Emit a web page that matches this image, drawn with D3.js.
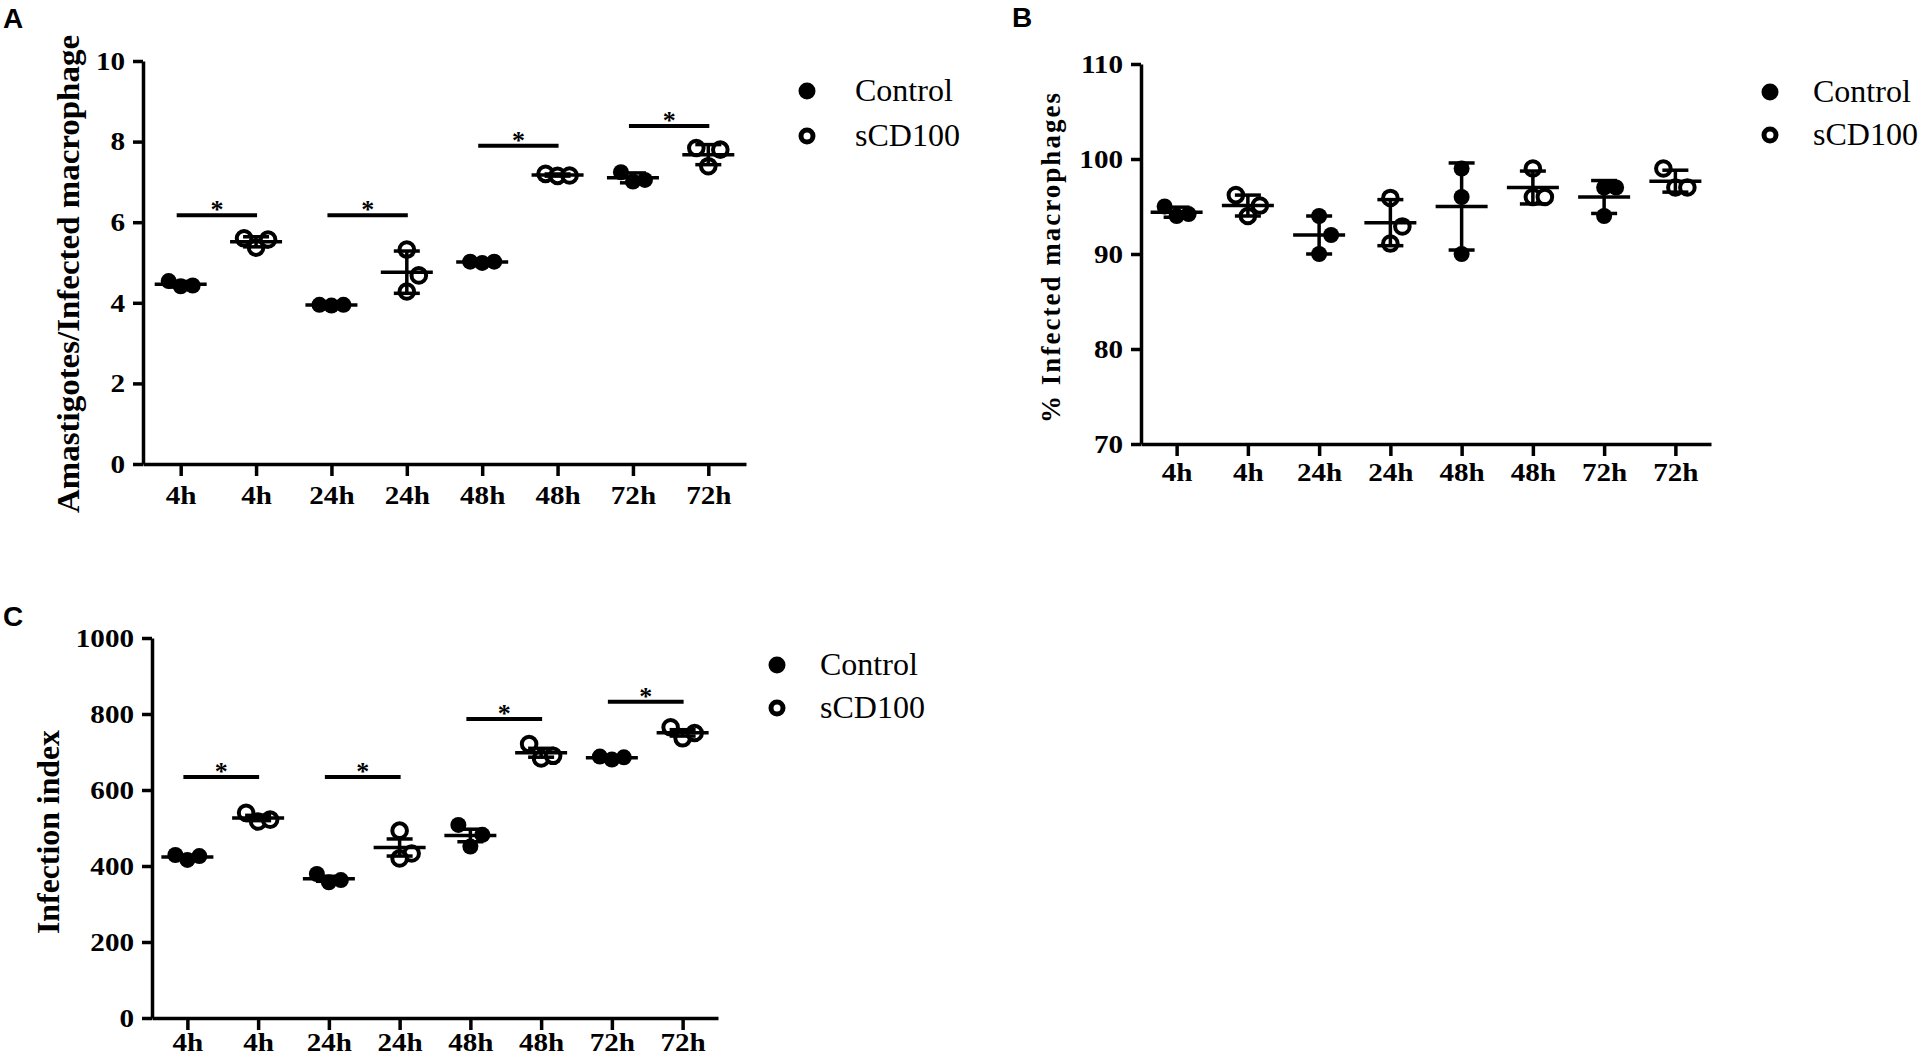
<!DOCTYPE html>
<html><head><meta charset="utf-8">
<script src="https://cdn.jsdelivr.net/npm/d3@7"></script>
<style>html,body{margin:0;padding:0;background:#fff}svg{display:block}</style>
</head><body>
<svg id="fig" width="1927" height="1057"></svg>
<script>
// ---------- data ----------
const timeLabels   = ["4h","4h","24h","24h","48h","48h","72h","72h"];
const groupSeries  = ["Control","sCD100","Control","sCD100","Control","sCD100","Control","sCD100"];
const seriesNames  = ["Control","sCD100"];

const ticksA = [0,2,4,6,8,10];
const ticksB = [70,80,90,100,110];
const ticksC = [0,200,400,600,800,1000];

// Amastigotes / infected macrophage (3 replicates per group)
const amastigotes = [
  [4.54,4.41,4.43],[5.60,5.37,5.57],
  [3.95,3.93,3.95],[5.32,4.68,4.28],
  [5.02,4.99,5.02],[7.20,7.15,7.16],
  [7.24,7.01,7.05],[7.84,7.39,7.80]
];
// % infected macrophages
const infectedPct = [
  [95.0,94.0,94.2],[96.2,95.1,94.0],
  [94.0,92.0,90.0],[95.9,92.9,91.1],
  [99.0,96.0,90.0],[99.0,96.0,96.0],
  [97.0,97.0,94.0],[99.0,97.0,97.0]
];
// Infection index
const infectionIndex = [
  [429,416,426],[540,517,522],
  [379,357,363],[493,433,420],
  [508,451,482],[721,683,690],
  [688,680,686],[765,736,750]
];
// significance brackets: [groupA, groupB, height]
const sigA = [[0,1,6.17],[2,3,6.17],[4,5,7.9],[6,7,8.39]];
const sigC = [[0,1,634],[2,3,634],[4,5,787],[6,7,832]];

// ---------- drawing ----------
const svg = d3.select("#fig");
const SERIF = "'Liberation Serif','Times New Roman',serif";
const SANS = "'Liberation Sans',Arial,sans-serif";
const LW = 3.5;

function stretch(sel, k){
  sel.each(function(){
    const L = this.getComputedTextLength();
    this.setAttribute("textLength", (L*k).toFixed(1));
    this.setAttribute("lengthAdjust","spacingAndGlyphs");
  });
}

function layoutPoints(vals, y, step, tol){
  const order = vals.map((v,i)=>i).sort((a,b)=>vals[a]-vals[b]);
  const placed = [];
  const slotsTry = [0,1,-1,2,-2,3,-3];
  const out = new Array(vals.length);
  order.forEach(i=>{
    const py = y(vals[i]);
    for(const s of slotsTry){
      const clash = placed.some(p=>p.s===s && Math.abs(p.py-py)<tol);
      if(!clash){ placed.push({s,py}); out[i]={v:vals[i], dx:s*step}; break; }
    }
  });
  return out;
}

function panel(cfg){
  const g = svg.append("g");
  const x = d3.scalePoint().domain(d3.range(timeLabels.length)).range([cfg.left,cfg.right]).padding(0.5);
  const y = d3.scaleLinear().domain(cfg.domain).range([cfg.bottom,cfg.top]);

  // y axis
  const ya = g.append("g").attr("transform",`translate(${cfg.left},0)`)
    .call(d3.axisLeft(y).tickValues(cfg.ticks).tickFormat(d3.format("d")).tickSize(10).tickPadding(8).tickSizeOuter(0));
  // x axis
  const xa = g.append("g").attr("transform",`translate(0,${cfg.bottom})`)
    .call(d3.axisBottom(x).tickFormat(i=>timeLabels[i]).tickSize(12).tickPadding(cfg.xPad).tickSizeOuter(0));
  [ya,xa].forEach(a=>{
    a.attr("font-family",SERIF).attr("font-size",26).attr("font-weight","bold");
    a.selectAll("path.domain").attr("stroke","#000").attr("stroke-width",LW);
    a.selectAll(".tick line").attr("stroke","#000").attr("stroke-width",LW);
    a.selectAll(".tick text").attr("fill","#000");
    stretch(a.selectAll(".tick text"), 1.12);
  });

  // points
  const step = 12, tol = 22.5;
  cfg.data.forEach((vals,i)=>{
    const pts = layoutPoints(vals, y, step, tol);
    const open = groupSeries[i]==="sCD100";
    g.append("g").selectAll("circle").data(pts).join("circle")
      .attr("cx",d=>x(i)+d.dx).attr("cy",d=>y(d.v))
      .attr("r", open?7.3:8)
      .attr("fill", open?"#fff":"#000")
      .attr("stroke", open?"#000":"none")
      .attr("stroke-width", open?4:0);
  });
  // mean and error bars
  cfg.data.forEach((vals,i)=>{
    const m = d3.mean(vals);
    let e = d3.deviation(vals);
    if(cfg.err==="SEM") e = e/Math.sqrt(vals.length);
    const cx = x(i);
    const lg = g.append("g").attr("stroke","#000").attr("stroke-width",LW);
    lg.append("line").attr("x1",cx-26).attr("x2",cx+26).attr("y1",y(m)).attr("y2",y(m));
    lg.append("line").attr("x1",cx).attr("x2",cx).attr("y1",y(m-e)).attr("y2",y(m+e));
    [m-e,m+e].forEach(v=>lg.append("line").attr("x1",cx-13).attr("x2",cx+13).attr("y1",y(v)).attr("y2",y(v)));
  });
  // significance
  (cfg.sig||[]).forEach(([a,b,h])=>{
    const x1 = x(a)-4, x2 = x(b)+1, yy = y(h);
    g.append("line").attr("x1",x1).attr("x2",x2).attr("y1",yy).attr("y2",yy)
      .attr("stroke","#000").attr("stroke-width",4);
    g.append("text").attr("x",(x1+x2)/2).attr("y",yy+3).attr("text-anchor","middle")
      .attr("font-family",SERIF).attr("font-size",26).attr("font-weight","bold").text("*");
  });

  // y title
  g.append("text").attr("transform",`translate(${cfg.title.x},${cfg.title.y}) rotate(-90)`)
    .attr("text-anchor","middle").attr("font-family",SERIF).attr("font-weight","bold")
    .attr("font-size",cfg.title.size).attr("textLength",cfg.title.len)
    .attr("lengthAdjust",cfg.title.adj).text(cfg.title.text);

  // panel letter
  g.append("text").attr("x",cfg.letter.x).attr("y",cfg.letter.y)
    .attr("font-family",SANS).attr("font-weight","bold").attr("font-size",28).text(cfg.letter.t);

  // legend
  const L = cfg.legend;
  seriesNames.forEach((s,k)=>{
    const cy = L.y + k*L.dy;
    const open = s==="sCD100";
    g.append("circle").attr("cx",L.x).attr("cy",cy).attr("r",open?6:8.5)
      .attr("fill",open?"#fff":"#000").attr("stroke",open?"#000":"none").attr("stroke-width",open?5:0);
    g.append("text").attr("x",L.tx).attr("y",cy+10).attr("font-family",SERIF)
      .attr("font-size",32).attr("fill","#000").text(s);
  });
}

panel({left:143,right:746,top:61,bottom:464,domain:[0,10],ticks:ticksA,xPad:10,
  data:amastigotes,err:"SD",sig:sigA,
  title:{x:79,y:274,size:32,len:478,adj:"spacingAndGlyphs",text:"Amastigotes/Infected macrophage"},
  letter:{x:3,y:28,t:"A"},
  legend:{x:807,y:91,dy:45,tx:855}});

panel({left:1141,right:1711,top:64,bottom:444,domain:[70,110],ticks:ticksB,xPad:7,
  data:infectedPct,err:"SD",sig:[],
  title:{x:1060,y:258,size:27,len:330,adj:"spacing",text:"% Infected macrophages"},
  letter:{x:1012,y:27,t:"B"},
  legend:{x:1770,y:92,dy:43,tx:1813}});

panel({left:152,right:718,top:638,bottom:1018,domain:[0,1000],ticks:ticksC,xPad:3,
  data:infectionIndex,err:"SEM",sig:sigC,
  title:{x:59,y:832,size:32,len:204,adj:"spacingAndGlyphs",text:"Infection index"},
  letter:{x:3,y:626,t:"C"},
  legend:{x:777,y:665,dy:43,tx:820}});
</script>
</body></html>
